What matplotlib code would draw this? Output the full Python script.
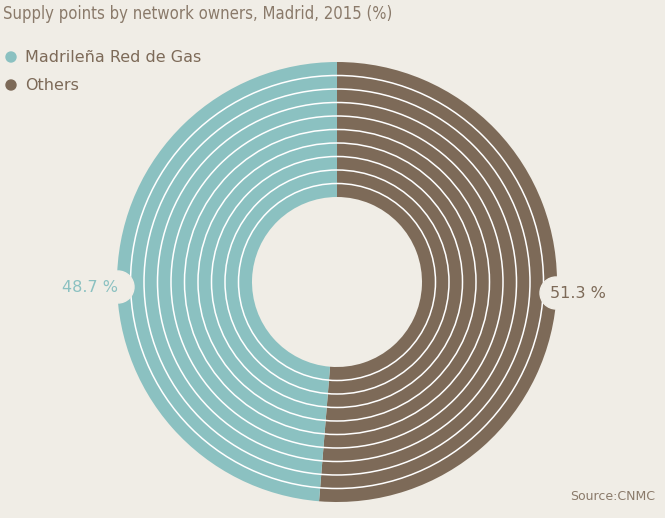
import matplotlib
matplotlib.use("Agg")
import matplotlib.pyplot as plt
from matplotlib.patches import Circle

labels = ["Others", "Madrileña Red de Gas"]
values = [51.3, 48.7]
colors = ["#7d6a58", "#8bc1c1"]
bg = "#f0ede6"

W, H = 665, 518
fig = plt.figure(figsize=(W / 100, H / 100), dpi=100, facecolor=bg)
ax = fig.add_axes([0, 0, 1, 1])

cx, cy, r_out, r_in = 337, 236, 220, 85
ax.pie(values, colors=colors, startangle=90, counterclock=False,
       center=(cx, cy), radius=r_out, frame=True,
       wedgeprops=dict(width=r_out - r_in, linewidth=0))
ax.set_xlim(0, W)
ax.set_ylim(0, H)
ax.set_aspect("equal")
ax.axis("off")

# concentric white rings
n_rings = 10
for i in range(1, n_rings):
    r = r_in + (r_out - r_in) * i / n_rings
    ax.add_patch(Circle((cx, cy), r, fill=False, ec="white", lw=1.1))

# notches for labels
ax.add_patch(Circle((118, 231), 16, color=bg, zorder=3))
ax.add_patch(Circle((556, 225), 16, color=bg, zorder=3))
ax.text(90, 231, f"{values[1]} %", color=colors[1], fontsize=11.5,
        ha="center", va="center", zorder=4)
ax.text(578, 224, f"{values[0]} %", color=colors[0], fontsize=11.5,
        ha="center", va="center", zorder=4)

ax.text(3, H - 14, "Supply points by network owners, Madrid, 2015 (%)",
        color="#8a7a6a", fontsize=12, va="center", fontstretch="condensed")
for i, (lab, col) in enumerate(zip(labels[::-1], colors[::-1])):
    y = H - 57 - i * 28
    ax.add_patch(Circle((11, y), 5, color=col))
    ax.text(25, y, lab, color="#7d6a58", fontsize=11.5, va="center")

ax.text(655, 22, "Source:CNMC", color="#8a7a6a", fontsize=9, ha="right", va="center")

fig.savefig("out.png", dpi=100, facecolor=bg)
